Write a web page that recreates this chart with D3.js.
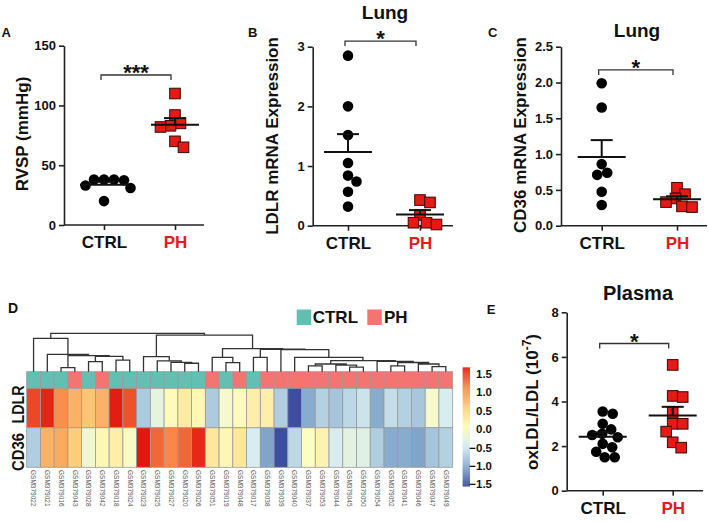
<!DOCTYPE html>
<html><head><meta charset="utf-8">
<script src="https://cdn.jsdelivr.net/npm/d3@7"></script>
<style>
body{margin:0;background:#fff}
text{font-family:"Liberation Sans",Arial,Helvetica,sans-serif}
</style>
</head><body>
<svg id="c" width="709" height="522" xmlns="http://www.w3.org/2000/svg"></svg>
<script>
// ---------------- DATA ----------------
const groups = ["CTRL", "PH"];
const rvspCtrl = [38, 38, 38, 37.5, 33, 31, 20];
const rvspPH = [110, 92, 85, 83, 82, 70, 65];
const ldlrCtrl = [2.85, 2.0, 1.52, 1.05, 0.84, 0.74, 0.57, 0.32];
const ldlrPH = [0.43, 0.39, 0.18, 0.05, 0.02, 0.05];
const cd36Ctrl = [1.99, 1.65, 0.86, 0.71, 0.74, 0.475, 0.29];
const cd36PH = [0.53, 0.44, 0.38, 0.33, 0.27, 0.26];
const oxCtrl = [3.55, 3.45, 3.0, 2.75, 2.5, 2.55, 2.4, 2.1, 1.95, 1.75, 1.5, 1.5];
const oxPH = [5.64, 4.25, 4.2, 3.5, 3.0, 3.0, 2.65, 2.17, 1.93];
const ticksA = [0, 50, 100, 150];
const ticksB = [0, 1, 2, 3];
const ticksC = [0, 0.5, 1.0, 1.5, 2.0, 2.5];
const ticksE = [0, 2, 4, 6, 8];

const samples = ["GSM379022","GSM379021","GSM379016","GSM379043","GSM379028","GSM379042","GSM379018","GSM379024",
  "GSM379023","GSM379025","GSM379027","GSM379020","GSM379026","GSM379051","GSM379019","GSM379048","GSM379017",
  "GSM379038","GSM379039","GSM379040","GSM379037","GSM379053","GSM379044","GSM379045","GSM379050","GSM379054",
  "GSM379052","GSM379041","GSM379046","GSM379047","GSM379049"];
const sampleGroup = ["CTRL","CTRL","CTRL","PH","CTRL","PH","CTRL","CTRL","CTRL","CTRL","CTRL","CTRL","CTRL","PH","CTRL","PH","CTRL",
  "PH","PH","PH","PH","PH","PH","PH","PH","PH","PH","PH","PH","PH","PH"];
const heatRows = ["LDLR", "CD36"];
const ldlrZ = [1.45, 1.62, 1.1, 0.85, 0.7, 0.85, 1.65, 1.4, -0.75, -0.25, 0.1, 0.3, 0.15, -0.75, -0.05, 0.1, 0.25,
  0.25, -0.72, -1.55, -1.0, -0.7, -0.8, -0.65, -0.55, -1.0, -0.6, -0.7, -0.78, -0.05, -0.45];
const cd36Z = [-0.72, 0.85, 0.9, 0.65, -0.1, 0.15, 0.25, 0.0, 1.68, 1.3, 1.15, 1.3, 1.6, 0.35, 0.15, 0.35, -0.45,
  -1.05, -1.55, -0.65, 0.05, 0.2, -0.45, -0.3, -0.35, -0.72, -1.0, -1.0, -1.05, -0.8, -0.7];
// hclust-style merges: negative = leaf (1-based column), positive = earlier merge; third = height
const merges = [
  [-3,-4,1.05],[-5,-6,2.6],[-7,-8,3.0],[2,3,4.0],[1,4,4.2],[-2,5,4.5],[-1,6,8.7],
  [-12,-13,2.2],[-11,8,2.45],[-10,9,2.8],[-9,10,3.9],
  [-15,-16,2.35],[-14,12,3.75],[-17,-18,3.75],
  [-21,-22,1.5],[-24,-25,1.2],[-23,16,1.7],[15,17,2.0],[-27,-28,1.5],[-30,-31,1.3],[-29,20,2.0],[19,21,2.4],
  [-26,22,2.7],[18,23,2.9],[-20,24,3.75],[-19,25,5.75],[14,26,5.85],[13,27,6.0],[11,28,9.55],[7,29,10]
];
const legendTicks = [1.5, 1.0, 0.5, 0.0, -0.5, -1.0, -1.5];
const heatColors = ["#3c4f9e", "#86abcd", "#d6ecf2", "#fdfdc0", "#fdd47f", "#f98948", "#e2170e"];
const groupColors = {CTRL: "#62bfb2", PH: "#f47472"};

// ---------------- DRAW ----------------
const svg = d3.select("#c");
svg.append("rect").attr("width", 709).attr("height", 522).attr("fill", "#fff");

function swarm(vals, y, cx, d) {
  const pts = vals.map(v => ({v, y: y(v)})).sort((a, b) => a.y - b.y);
  const placed = [];
  pts.forEach(p => {
    for (let k = 0; k < 400; k++) {
      const off = (k % 2 ? 1 : -1) * Math.ceil(k / 2) * 0.5;
      const ok = placed.every(q => (q.x - (cx + off)) ** 2 + (q.y - p.y) ** 2 >= d * d);
      if (ok) { p.x = cx + off; break; }
    }
    placed.push(p);
  });
  return pts;
}

function scatterPanel(c) {
  const g = svg.append("g");
  const y = d3.scaleLinear().domain(c.dom).range([c.yBot, c.yTop]);
  const x = d3.scalePoint().domain(groups).range([c.x0, c.x1]);
  // y axis
  const ya = g.append("g").attr("transform", `translate(${c.ax},0)`)
    .call(d3.axisLeft(y).tickValues(c.ticks).tickSize(5).tickSizeOuter(0).tickPadding(3).tickFormat(c.fmt));
  ya.select(".domain").attr("stroke", "#222").attr("stroke-width", 1.6);
  ya.selectAll(".tick line").attr("stroke", "#222").attr("stroke-width", 1.6);
  ya.selectAll(".tick text").attr("font-size", 13).attr("font-weight", "bold").attr("fill", "#111")
    .style("font-family", '"Liberation Sans",Arial,sans-serif');
  // x axis
  g.append("line").attr("x1", c.ax).attr("x2", c.xEnd).attr("y1", y(0)).attr("y2", y(0))
    .attr("stroke", "#222").attr("stroke-width", 1.6);
  const xa = g.append("g").attr("transform", `translate(0,${y(0)})`)
    .call(d3.axisBottom(x).tickSize(5).tickSizeOuter(0).tickPadding(6));
  xa.select(".domain").remove();
  xa.selectAll(".tick line").attr("stroke", "#222").attr("stroke-width", 1.6);
  xa.selectAll(".tick text").attr("font-size", 17).attr("font-weight", "bold")
    .attr("fill", d => d === "PH" ? "#e41a1c" : "#111")
    .style("font-family", '"Liberation Sans",Arial,sans-serif');
  // points
  const cp = swarm(c.ctrl, y, x("CTRL"), 10);
  g.selectAll("circle.pt").data(cp).join("circle").attr("class", "pt")
    .attr("cx", d => d.x).attr("cy", d => d.y).attr("r", 5.3).attr("fill", "#000");
  const pp = swarm(c.ph, y, x("PH"), 10);
  g.selectAll("rect.pt").data(pp).join("rect").attr("class", "pt")
    .attr("x", d => d.x - 5.3).attr("y", d => d.y - 5.3).attr("width", 10.6).attr("height", 10.6)
    .attr("fill", "#e41a14").attr("stroke", "#3a0808").attr("stroke-width", 1);
  // mean & SEM
  [["CTRL", c.ctrl], ["PH", c.ph]].forEach(([k, v]) => {
    const m = d3.mean(v), s = d3.deviation(v) / Math.sqrt(v.length);
    const cx = x(k);
    g.append("line").attr("x1", cx - 24).attr("x2", cx + 24).attr("y1", y(m)).attr("y2", y(m))
      .attr("stroke", "#111").attr("stroke-width", 2);
    g.append("line").attr("x1", cx).attr("x2", cx).attr("y1", y(m)).attr("y2", y(m + s))
      .attr("stroke", "#111").attr("stroke-width", 2);
    g.append("line").attr("x1", cx - 11).attr("x2", cx + 11).attr("y1", y(m + s)).attr("y2", y(m + s))
      .attr("stroke", "#111").attr("stroke-width", 2);
  });
  // bracket
  const by = y(c.br);
  const bx0 = x("CTRL") - 3, bx1 = x("PH") - 4;
  g.append("path").attr("d", `M${bx0},${by + 5}V${by}H${bx1}V${by + 5}`)
    .attr("fill", "none").attr("stroke", "#333").attr("stroke-width", 1.3);
  g.append("text").attr("x", (bx0 + bx1) / 2).attr("y", by + 5).attr("text-anchor", "middle")
    .attr("font-size", 22).attr("font-weight", "bold").attr("fill", "#111").text(c.stars);
  // y title
  const yt = g.append("text").attr("transform", `translate(${c.ytx},${c.yty}) rotate(-90)`)
    .attr("text-anchor", "middle").attr("font-size", 17).attr("font-weight", "bold").attr("fill", "#111");
  if (c.sup) {
    yt.append("tspan").text(c.yTitle);
    yt.append("tspan").attr("dy", -7).attr("font-size", 12).text(c.sup);
    yt.append("tspan").attr("dy", 7).text(")");
  } else yt.text(c.yTitle);
  // title
  if (c.title) g.append("text").attr("x", c.tx).attr("y", c.ty).attr("text-anchor", "middle")
    .attr("font-size", c.tfs).attr("font-weight", "bold").attr("fill", "#111").text(c.title);
  g.append("text").attr("x", c.lx).attr("y", c.ly).attr("font-size", 13).attr("font-weight", "bold")
    .attr("fill", "#111").text(c.letter);
}

scatterPanel({ax: 64, x0: 104, x1: 175, xEnd: 204, yTop: 45.7, yBot: 225, dom: [0, 150], ticks: ticksA, fmt: d3.format("d"),
  ctrl: rvspCtrl, ph: rvspPH, br: 125.5, stars: "***", yTitle: "RVSP (mmHg)", ytx: 28, yty: 134,
  letter: "A", lx: 1.5, ly: 36.7});
scatterPanel({ax: 312.7, x0: 348, x1: 420, xEnd: 453, yTop: 46.7, yBot: 225.7, dom: [0, 3], ticks: ticksB, fmt: d3.format("d"),
  ctrl: ldlrCtrl, ph: ldlrPH, br: 3.095, stars: "*", yTitle: "LDLR mRNA Expression", ytx: 278, yty: 136,
  letter: "B", lx: 248, ly: 36.7, title: "Lung", tx: 385, ty: 18.5, tfs: 19});
scatterPanel({ax: 561, x0: 601.7, x1: 677, xEnd: 707, yTop: 46.7, yBot: 225.7, dom: [0, 2.5], ticks: ticksC, fmt: d3.format(".1f"),
  ctrl: cd36Ctrl, ph: cd36PH, br: 2.175, stars: "*", yTitle: "CD36 mRNA Expression", ytx: 526, yty: 135,
  letter: "C", lx: 488, ly: 36.7, title: "Lung", tx: 637, ty: 36.7, tfs: 19});
scatterPanel({ax: 566.7, x0: 602.7, x1: 672.7, xEnd: 703, yTop: 312.3, yBot: 490.7, dom: [0, 8], ticks: ticksE, fmt: d3.format("d"),
  ctrl: oxCtrl, ph: oxPH, br: 6.6, stars: "*", yTitle: "oxLDL/LDL (10", sup: "-7", ytx: 538, yty: 402,
  letter: "E", lx: 486.7, ly: 314, title: "Plasma", tx: 638, ty: 300, tfs: 20});

// ---------------- HEATMAP (D) ----------------
const hg = svg.append("g");
const hx = d3.scaleBand().domain(samples).range([26.7, 452.7]).padding(0);
const annTop = 371.7, annBot = 388.3;
const hy = d3.scaleBand().domain(heatRows).range([388.3, 467.3]).padding(0);
const allZ = ldlrZ.concat(cd36Z);
const [zmin, zmax] = d3.extent(allZ);
const stops = d3.range(7).map(i => zmin + (zmax - zmin) * i / 6);
const col = d3.scaleLinear().domain(stops).range(heatColors).interpolate(d3.interpolateRgb).clamp(true);

hg.selectAll("rect.ann").data(samples).join("rect").attr("class", "ann")
  .attr("x", d => hx(d)).attr("y", annTop).attr("width", hx.bandwidth()).attr("height", annBot - annTop)
  .attr("fill", (d, i) => groupColors[sampleGroup[i]]).attr("stroke", "#9a9a9a").attr("stroke-width", 0.8);
const cells = [];
samples.forEach((s, i) => { cells.push({s, r: "LDLR", v: ldlrZ[i]}); cells.push({s, r: "CD36", v: cd36Z[i]}); });
hg.selectAll("rect.cell").data(cells).join("rect").attr("class", "cell")
  .attr("x", d => hx(d.s)).attr("y", d => hy(d.r)).attr("width", hx.bandwidth()).attr("height", hy.bandwidth())
  .attr("fill", d => col(d.v)).attr("stroke", "#9a9a9a").attr("stroke-width", 0.8);

// row labels
heatRows.forEach((r, i) => {
  hg.append("text").attr("transform", `translate(23.5,${hy(r) + hy.bandwidth() / 2 + (i === 0 ? -3.5 : 4.5)}) rotate(-90)`)
    .attr("text-anchor", "middle").attr("font-size", 16).attr("font-weight", "bold").attr("fill", "#111")
    .attr("textLength", 38).attr("lengthAdjust", "spacingAndGlyphs").text(r);
});
// column labels
hg.selectAll("text.cl").data(samples).join("text").attr("class", "cl")
  .attr("transform", d => `translate(${hx(d) + hx.bandwidth() / 2 - 2.2},470) rotate(90)`)
  .attr("font-size", 6.5).attr("fill", "#555").text(d => d);

// dendrogram
const dy = d3.scaleLinear().domain([0, 10]).range([annTop, 333.3]);
const pos = {};
const leafX = i => hx(samples[i - 1]) + hx.bandwidth() / 2;
let dpath = "";
merges.forEach(([a, b, h], k) => {
  const pa = a < 0 ? {x: leafX(-a), h: 0} : pos[a];
  const pb = b < 0 ? {x: leafX(-b), h: 0} : pos[b];
  pos[k + 1] = {x: (pa.x + pb.x) / 2, h};
  dpath += `M${pa.x},${dy(pa.h)}V${dy(h)}H${pb.x}V${dy(pb.h)}`;
});
hg.append("path").attr("d", dpath).attr("fill", "none").attr("stroke", "#333").attr("stroke-width", 1.3);

// group legend
const lg = svg.append("g");
[["CTRL", 296.7, 312.7], ["PH", 367.3, 384]].forEach(([k, sx, tx]) => {
  lg.append("rect").attr("x", sx).attr("y", 309.5).attr("width", 14.5).attr("height", 15.5).attr("fill", groupColors[k]);
  lg.append("text").attr("x", tx).attr("y", 323).attr("font-size", 17).attr("font-weight", "bold").attr("fill", "#111").text(k);
});

// colour bar
const ly = d3.scaleLinear().domain([-1.5, 1.5]).range([484.3, 374]);
const barVals = d3.range(zmin, zmax, (zmax - zmin) / 120);
svg.selectAll("rect.bar").data(barVals).join("rect").attr("class", "bar")
  .attr("x", 462.7).attr("width", 7.3)
  .attr("y", d => ly(Math.min(d + (zmax - zmin) / 120, zmax)))
  .attr("height", d => ly(d) - ly(Math.min(d + (zmax - zmin) / 120, zmax)) + 0.4)
  .attr("fill", d => col(d));
svg.selectAll("text.lt").data(legendTicks).join("text").attr("class", "lt")
  .attr("x", 492).attr("y", d => ly(d)).attr("dy", "0.35em").attr("text-anchor", "end")
  .attr("font-size", 11.5).attr("font-weight", "bold").attr("fill", "#111")
  .text(d => d3.format(".1f")(d).replace("-", "\u2212"));
svg.append("text").attr("x", 8).attr("y", 313.3).attr("font-size", 14).attr("font-weight", "bold").attr("fill", "#111").text("D");
</script>
</body></html>
